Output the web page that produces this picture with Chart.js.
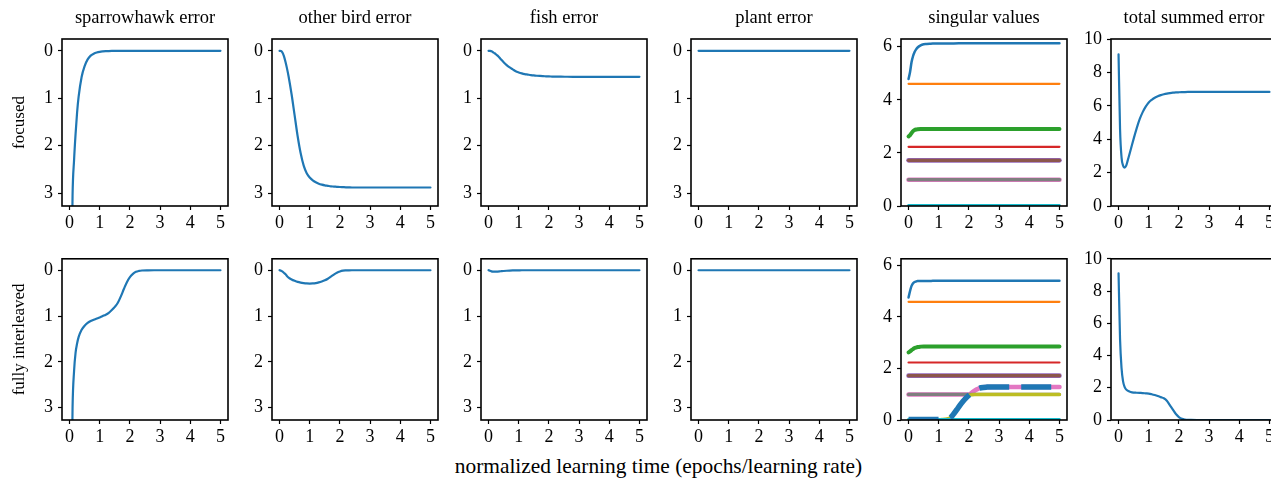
<!DOCTYPE html>
<html><head><meta charset="utf-8">
<script src="https://cdn.jsdelivr.net/npm/chart.js@4.4.0/dist/chart.umd.min.js"></script>
<style>
html,body{margin:0;padding:0;background:#fff;overflow:hidden;width:1271px;height:479px;position:relative}
#xl{position:absolute;left:0;width:1317px;top:456px;text-align:center;font:21.4px/1 "Liberation Serif","Times New Roman",serif;color:#000;white-space:nowrap}
</style></head>
<body>
<div id="xl">normalized learning time (epochs/learning rate)</div>
<script>
const FONT = '"Liberation Serif", "Times New Roman", serif';
// shared time axis
const t = [0,0.05,0.1,0.15,0.2,0.25,0.3,0.4,0.5,0.6,0.7,0.8,0.9,1.0,1.1,1.2,1.3,1.4,1.5,1.6,1.7,1.8,1.9,2.0,2.1,2.2,2.3,2.4,2.6,2.8,3.0,3.5,4.0,4.5,5.0];
const tFast = [0,0.05,0.1,0.15,0.2,0.25,0.3,0.4,0.5,0.6,0.7,0.8,1.0,1.5,2.0,3.0,5.0];
const tEnds = [0,5];

// focused errors
const sparrowFocused = [9.0,5.6,3.05,2.3,1.75,1.3,0.97,0.55,0.32,0.18,0.1,0.06,0.035,0.02,0.012,0.007,0.004,0.002,0.001,0,0,0,0,0,0,0,0,0,0,0,0,0,0,0,0];
const otherFocused = [0,0.005,0.04,0.12,0.24,0.38,0.54,0.92,1.36,1.8,2.16,2.42,2.58,2.67,2.73,2.77,2.8,2.82,2.835,2.845,2.855,2.86,2.865,2.87,2.873,2.876,2.878,2.88,2.88,2.88,2.88,2.88,2.88,2.88,2.88];
const fishFocused = [0,0.002,0.01,0.03,0.05,0.075,0.1,0.17,0.24,0.3,0.35,0.39,0.43,0.455,0.475,0.49,0.5,0.51,0.518,0.524,0.529,0.533,0.536,0.539,0.541,0.543,0.544,0.545,0.546,0.547,0.548,0.548,0.548,0.548,0.548];
const plantFocused = [0,0];
const totalFocused = [9.08,4.6,2.9,2.42,2.3,2.4,2.7,3.35,4.02,4.65,5.2,5.62,5.95,6.2,6.36,6.48,6.57,6.64,6.69,6.73,6.76,6.785,6.8,6.81,6.818,6.824,6.828,6.83,6.83,6.83,6.83,6.83,6.83,6.83,6.83];

// fully interleaved errors
const sparrowInter = [9.0,5.6,3.0,2.2,1.8,1.6,1.46,1.3,1.21,1.15,1.11,1.08,1.055,1.03,1.0,0.97,0.93,0.87,0.8,0.71,0.57,0.41,0.26,0.15,0.08,0.035,0.015,0.006,0.001,0,0,0,0,0,0];
const otherInter = [0,0.01,0.03,0.06,0.09,0.13,0.16,0.2,0.23,0.255,0.27,0.28,0.287,0.29,0.288,0.28,0.265,0.245,0.22,0.185,0.14,0.095,0.055,0.027,0.01,0.004,0.001,0,0,0,0,0,0,0,0];
const fishInter = [0,0.01,0.025,0.03,0.032,0.03,0.028,0.022,0.016,0.011,0.007,0.004,0.002,0.001,0,0,0,0,0,0,0,0,0,0,0,0,0,0,0,0,0,0,0,0,0];
const plantInter = [0,0];
const totalInter = [9.1,5.0,3.2,2.4,2.05,1.9,1.82,1.74,1.7,1.69,1.68,1.67,1.655,1.64,1.6,1.55,1.49,1.42,1.35,1.2,0.92,0.64,0.37,0.18,0.07,0.025,0.008,0.003,0,0,0,0,0,0,0];

// singular values, focused
const sv0Focused = [4.78,5.05,5.42,5.65,5.8,5.9,5.97,6.05,6.09,6.1,6.11,6.12,6.12,6.125,6.13,6.13,6.13];
const sv1Focused = [4.6,4.6];
const sv2Focused = [2.62,2.67,2.75,2.82,2.86,2.88,2.89,2.9,2.9,2.9,2.9,2.9,2.9,2.9,2.9,2.9,2.9];
const sv3Focused = [2.23,2.23];
const sv4Focused = [1.72,1.72];
const sv5Focused = [1.72,1.72];
const sv6Focused = [0.99,0.99];
const sv7Focused = [0.99,0.99];
const sv8Focused = [0,0];
const sv9Focused = [0.03,0.03];

// singular values, fully interleaved
const sv0Inter = [4.75,5.0,5.2,5.3,5.35,5.37,5.385,5.39,5.39,5.39,5.39,5.395,5.395,5.4,5.4,5.4,5.4];
const sv1Inter = [4.58,4.58];
const sv2Inter = [2.62,2.66,2.71,2.75,2.79,2.81,2.83,2.845,2.85,2.85,2.85,2.85,2.85,2.85,2.85,2.85,2.85];
const sv3Inter = [2.23,2.23];
const sv4Inter = [1.72,1.72];
const sv5Inter = [1.72,1.72];
const sv6Inter = [0.99,0.99,0.99,0.99,0.99,0.99,0.99,0.99,0.99,0.99,0.99,0.99,0.99,0.99,0.99,0.99,0.99,0.99,0.99,0.99,0.99,0.99,0.99,0.99,1.06,1.15,1.21,1.25,1.275,1.28,1.28,1.28,1.28,1.28,1.28];
const sv7Inter = [0.99,0.99];
const sv8Inter = [0,0,0,0,0,0,0,0,0,0,0,0,0,0.01,0.02,0.03,0.05,0.1,0.24,0.4,0.57,0.72,0.85,0.95,0.98,0.99,0.99,0.99,0.99,0.99,0.99,0.99,0.99,0.99,0.99];
const sv9Inter = [0.03,0.03];
const newMode = [0.02,0.02,0.02,0.02,0.02,0.02,0.02,0.02,0.02,0.02,0.02,0.02,0.02,0.02,0.02,0.02,0.04,0.1,0.24,0.4,0.57,0.72,0.85,0.96,1.06,1.15,1.21,1.25,1.275,1.28,1.28,1.28,1.28,1.28,1.28];

// ticks and labels
const xTicks = [0,1,2,3,4,5];
const errTicks = [0,1,2,3];
const svTicks = [0,2,4,6];
const totTicks = [0,2,4,6,8,10];
const colTitles = ['sparrowhawk error','other bird error','fish error','plant error','singular values','total summed error'];
const rowLabels = ['focused','fully interleaved'];
const svColors = ['#1f77b4','#ff7f0e','#2ca02c','#d62728','#9467bd','#8c564b','#e377c2','#7f7f7f','#bcbd22','#17becf'];
const svWidthsFocused = [2.5,2.2,4,2.2,4.6,3.2,4.6,3.2,2.4,2.6];
const svWidthsInter = [2.5,2.2,4,2.2,4.6,3.2,4.6,3.2,3.4,2.6];

// layout
const COLS = [62, 272, 481, 691, 901, 1111];
const ROWS = [39, 253];
const PW = 166, PH = 167;

Chart.defaults.font.family = FONT;

const framePlugin = {
  id: 'frame',
  afterDatasetsDraw(chart) {
    const {ctx, chartArea: a} = chart;
    ctx.save();
    ctx.strokeStyle = '#000';
    ctx.lineWidth = 1.6;
    ctx.strokeRect(a.left, a.top, a.right - a.left, a.bottom - a.top);
    ctx.restore();
  }
};

function pts(xs, ys) { return xs.map((x, i) => ({x: x, y: ys[i]})); }

function line(xs, ys, color, width, dash) {
  return {
    data: pts(xs, ys), borderColor: color, backgroundColor: color, borderWidth: width,
    pointRadius: 0, fill: false, cubicInterpolationMode: 'monotone',
    borderDash: dash || [], borderCapStyle: dash ? 'butt' : 'round'
  };
}

function makeChart(row, col, datasets, yCfg) {
  const yw = col === 0 ? 62 : 50;
  const topPad = row === 0 ? 39 : 10;
  const xh = 34, rp = 12;
  const W = yw + PW + rp, H = topPad + PH + xh;
  const cv = document.createElement('canvas');
  cv.width = W; cv.height = H;
  cv.style.cssText = `position:absolute;left:${COLS[col] - yw}px;top:${ROWS[row] - topPad}px;width:${W}px;height:${H}px`;
  document.body.appendChild(cv);
  datasets.forEach((d, i) => { d.order = -i; });
  const gridCfg = {display: true, drawOnChartArea: false, drawTicks: true, tickLength: 4, tickWidth: 1.2, tickColor: '#000'};
  new Chart(cv, {
    type: 'line',
    data: {datasets: datasets},
    plugins: [framePlugin],
    options: {
      responsive: false, animation: false, devicePixelRatio: 1, events: [],
      layout: {padding: {top: row === 0 ? 0 : topPad, right: rp, left: 0, bottom: 0}},
      plugins: {
        legend: {display: false}, tooltip: {enabled: false},
        title: {
          display: row === 0, text: colTitles[col], fullSize: false, color: '#000',
          font: {family: FONT, size: 18.5, weight: 'normal', lineHeight: 1.2},
          padding: {top: 7, bottom: 9.8}
        }
      },
      scales: {
        x: {
          type: 'linear', min: -0.25, max: 5.25,
          afterBuildTicks: s => { s.ticks = xTicks.map(v => ({value: v})); },
          afterFit: s => { s.height = xh; },
          grid: gridCfg, border: {display: false},
          ticks: {color: '#000', font: {family: FONT, size: 18}, padding: 2, maxRotation: 0, minRotation: 0, autoSkip: false}
        },
        y: {
          type: 'linear', min: yCfg.min, max: yCfg.max, reverse: !!yCfg.reverse,
          afterBuildTicks: s => { s.ticks = yCfg.ticks.map(v => ({value: v})); },
          afterFit: s => { s.width = yw; },
          grid: gridCfg, border: {display: false},
          ticks: {color: '#000', font: {family: FONT, size: 18}, padding: 5, autoSkip: false},
          title: {
            display: col === 0, text: rowLabels[row], color: '#000',
            font: {family: FONT, size: 17, lineHeight: 1.2}, padding: {top: 9.8, bottom: 0}
          }
        }
      }
    }
  });
}

const BLUE = '#1f77b4';
const EW = 2.2;
const errCfg = {min: -0.25, max: 3.27, reverse: true, ticks: errTicks};
const svCfgF = {min: 0, max: 6.29, ticks: svTicks};
const svCfgI = {min: 0, max: 6.25, ticks: svTicks};
const totCfg = {min: 0, max: 10, ticks: totTicks};

// row 0: focused
makeChart(0, 0, [line(t, sparrowFocused, BLUE, EW)], errCfg);
makeChart(0, 1, [line(t, otherFocused, BLUE, EW)], errCfg);
makeChart(0, 2, [line(t, fishFocused, BLUE, EW)], errCfg);
makeChart(0, 3, [line(tEnds, plantFocused, BLUE, EW)], errCfg);
makeChart(0, 4, [
  line(tFast, sv0Focused, svColors[0], svWidthsFocused[0]),
  line(tEnds, sv1Focused, svColors[1], svWidthsFocused[1]),
  line(tFast, sv2Focused, svColors[2], svWidthsFocused[2]),
  line(tEnds, sv3Focused, svColors[3], svWidthsFocused[3]),
  line(tEnds, sv4Focused, svColors[4], svWidthsFocused[4]),
  line(tEnds, sv5Focused, svColors[5], svWidthsFocused[5]),
  line(tEnds, sv6Focused, svColors[6], svWidthsFocused[6]),
  line(tEnds, sv7Focused, svColors[7], svWidthsFocused[7]),
  line(tEnds, sv8Focused, svColors[8], svWidthsFocused[8]),
  line(tEnds, sv9Focused, svColors[9], svWidthsFocused[9])
], svCfgF);
makeChart(0, 5, [line(t, totalFocused, BLUE, EW)], totCfg);

// row 1: fully interleaved
makeChart(1, 0, [line(t, sparrowInter, BLUE, EW)], errCfg);
makeChart(1, 1, [line(t, otherInter, BLUE, EW)], errCfg);
makeChart(1, 2, [line(t, fishInter, BLUE, EW)], errCfg);
makeChart(1, 3, [line(tEnds, plantInter, BLUE, EW)], errCfg);
makeChart(1, 4, [
  line(tFast, sv0Inter, svColors[0], svWidthsInter[0]),
  line(tEnds, sv1Inter, svColors[1], svWidthsInter[1]),
  line(tFast, sv2Inter, svColors[2], svWidthsInter[2]),
  line(tEnds, sv3Inter, svColors[3], svWidthsInter[3]),
  line(tEnds, sv4Inter, svColors[4], svWidthsInter[4]),
  line(tEnds, sv5Inter, svColors[5], svWidthsInter[5]),
  line(t, sv6Inter, svColors[6], svWidthsInter[6]),
  line(tEnds, sv7Inter, svColors[7], svWidthsInter[7]),
  line(t, sv8Inter, svColors[8], svWidthsInter[8]),
  line(tEnds, sv9Inter, svColors[9], svWidthsInter[9]),
  line(t, newMode, BLUE, 5.5, [30, 12])
], svCfgI);
makeChart(1, 5, [line(t, totalInter, BLUE, EW)], totCfg);
</script>
</body></html>
